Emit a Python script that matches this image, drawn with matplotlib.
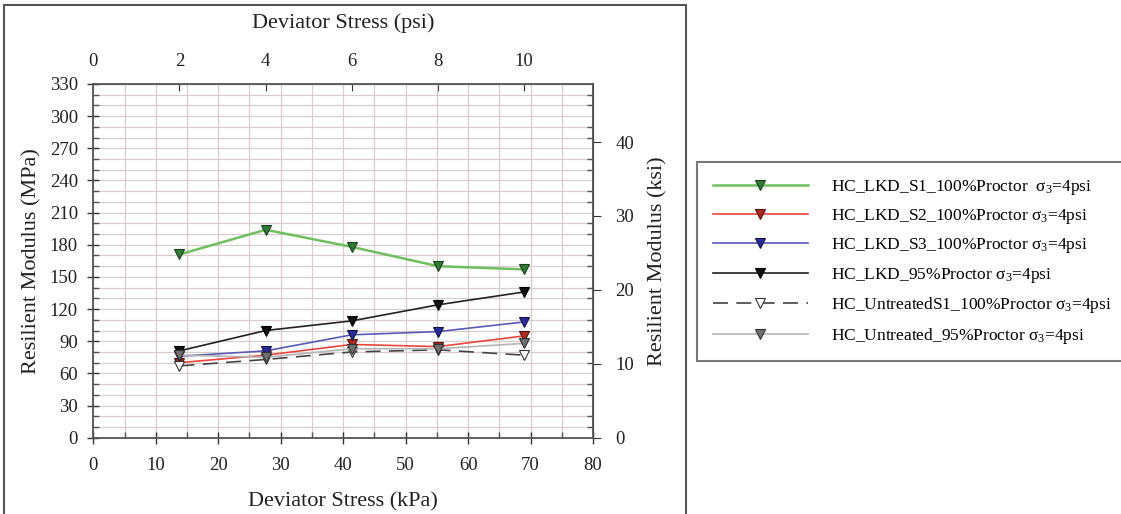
import matplotlib
matplotlib.use("Agg")
import matplotlib.pyplot as plt
from matplotlib.patches import Rectangle
from matplotlib.ticker import MultipleLocator

plt.rcParams['font.family'] = ['Liberation Serif', 'DejaVu Serif']
plt.rcParams['mathtext.fontset'] = 'custom'
plt.rcParams['mathtext.rm'] = 'Liberation Serif'
plt.rcParams['mathtext.it'] = 'Liberation Serif:italic'

# Data
stress_kpa = [13.8, 27.6, 41.4, 55.2, 69.0]
lkd_s1_100 = [171, 194, 178, 160, 157]
lkd_s2_100 = [70, 77, 87, 85, 95]
lkd_s3_100 = [76, 81, 96, 99, 108]
lkd_95 = [81, 100, 109, 124, 136]
untreated_s1_100 = [67, 73, 80, 82, 77]
untreated_95 = [77, 75, 83, 83, 88]

labels = [
    "HC_LKD_S1_100%Proctor  σ$_3$=4psi",
    "HC_LKD_S2_100%Proctor σ$_3$=4psi",
    "HC_LKD_S3_100%Proctor σ$_3$=4psi",
    "HC_LKD_95%Proctor σ$_3$=4psi",
    "HC_UntreatedS1_100%Proctor σ$_3$=4psi",
    "HC_Untreated_95%Proctor σ$_3$=4psi",
]

W, H = 1121, 514
fig = plt.figure(figsize=(W / 100, H / 100), dpi=100)

# outer frame around the chart panel
fig.patches.append(Rectangle((4 / W, -0.01), (686 - 4) / W, 1.01 - 5 / H,
                             transform=fig.transFigure, fill=False,
                             edgecolor='#555555', linewidth=1.5))

ax = fig.add_axes([93.3 / W, 1 - 437.7 / H, (593 - 93.3) / W, (437.7 - 84) / H])

styles = [
    dict(color='#6fbf5f', lw=1.8, ls='-', mfc='#2f7a35', mec='#1f3f1f'),
    dict(color='#e8473c', lw=1.2, ls='-', mfc='#b02a22', mec='#4a1510'),
    dict(color='#5a5ab8', lw=1.2, ls='-', mfc='#2a2a9a', mec='#151545'),
    dict(color='#222222', lw=1.2, ls='-', mfc='#111111', mec='#000000'),
    dict(color='#444444', lw=1.2, ls=(0, (9, 5)), mfc='white', mec='#333333'),
    dict(color='#b5b5b5', lw=1.2, ls='-', mfc='#707070', mec='#333333'),
]
series = [lkd_s1_100, lkd_s2_100, lkd_s3_100, lkd_95, untreated_s1_100, untreated_95]

handles = []
for vals, st, lab in zip(series, styles, labels):
    h, = ax.plot(stress_kpa, vals, marker='v', markersize=7, color=st['color'],
                 lw=st['lw'], ls=st['ls'], mfc=st['mfc'], mec=st['mec'],
                 mew=0.8, label=lab, zorder=3)
    handles.append(h)

ax.set_xlim(0, 80)
ax.set_ylim(0, 330)
ax.xaxis.set_major_locator(MultipleLocator(10))
ax.xaxis.set_minor_locator(MultipleLocator(5))
ax.yaxis.set_major_locator(MultipleLocator(30))
ax.yaxis.set_minor_locator(MultipleLocator(10))
ax.grid(which='both', color='#d8cccc', lw=0.9, zorder=0)
ax.set_axisbelow(True)
ax.tick_params(which='major', direction='inout', length=8, width=1, labelsize=13.5,
               colors='#333333', pad=7)
ax.tick_params(axis='x', which='major', pad=10)
ax.tick_params(which='minor', direction='in', length=4, width=1, colors='#555555')
ax.tick_params(axis='y', which='minor', right=True)
ax.tick_params(axis='both', which='both', labelcolor='#222222')
for s in ax.spines.values():
    s.set_color('#555555')
    s.set_linewidth(1.3)

ax.set_xlabel('Deviator Stress (kPa)', fontsize=16, color='#222222', labelpad=13)
ax.set_ylabel('Resilient Modulus (MPa)', fontsize=16, color='#222222', labelpad=6)

# secondary axes
top = ax.secondary_xaxis('top', functions=(lambda x: x / 6.895, lambda x: x * 6.895))
top.set_xticks([0, 2, 4, 6, 8, 10])
top.tick_params(direction='in', length=5, labelsize=13.5, colors='#333333',
                labelcolor='#222222', pad=10)
top.set_xlabel('Deviator Stress (psi)', fontsize=16, color='#222222', labelpad=18)

right = ax.secondary_yaxis('right', functions=(lambda y: y / 6.895, lambda y: y * 6.895))
right.set_yticks([0, 10, 20, 30, 40])
right.tick_params(direction='out', length=6, labelsize=13.5, colors='#333333',
                  labelcolor='#222222', pad=10)
right.set_ylabel('Resilient Modulus (ksi)', fontsize=16, color='#222222', labelpad=10)

leg = fig.legend(handles=handles, labels=labels, loc='upper left',
                 bbox_to_anchor=(697 / W, 1 - 162 / H), bbox_transform=fig.transFigure,
                 fontsize=12.5, frameon=True, fancybox=False, handlelength=5.5,
                 handletextpad=1.3, labelspacing=0.6, borderpad=0.9,
                 borderaxespad=0, edgecolor='#555555')
leg.get_frame().set_linewidth(1.5)

fig.savefig('out.png', dpi=100)
